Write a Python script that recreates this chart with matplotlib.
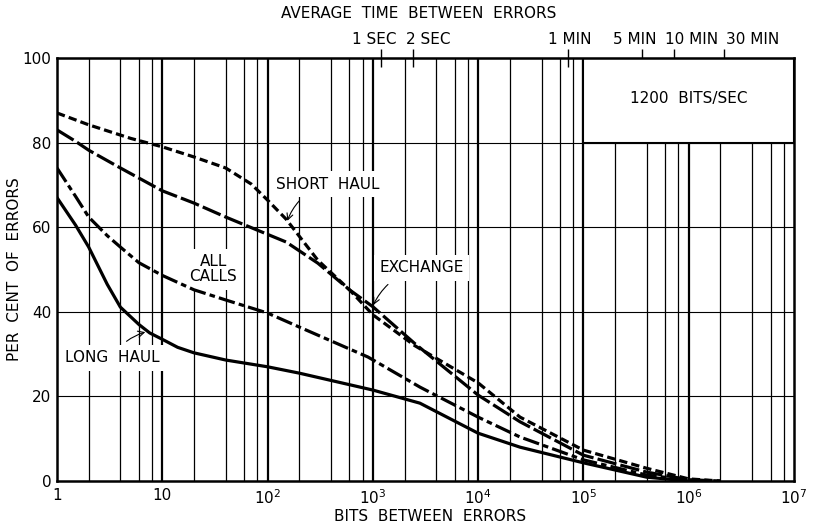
import numpy as np
import matplotlib.pyplot as plt
from matplotlib.patches import Rectangle

plt.rcParams['font.family'] = ['DejaVu Sans']
plt.rcParams['lines.scale_dashes'] = False

# per cent of errors vs bits between errors, read per call type
short_x = [1, 2, 5, 10, 20, 40, 70, 100, 150, 300, 600, 1000, 2500, 1e4, 2.5e4, 1e5, 4e5, 1e6, 2e6]
short_y = [87, 84.2, 81, 79, 76.6, 74, 70.2, 66.4, 61.9, 52.2, 45.2, 39.3, 32, 23.2, 15.1, 7.3, 3.0, 0.5, 0]

exch_x = [1, 1.5, 2, 4, 10, 20, 40, 80, 150, 300, 600, 1000, 2500, 1e4, 2.5e4, 1e5, 4e5, 1e6, 2e6]
exch_y = [83, 80.3, 78.2, 74, 68.6, 65.7, 62.4, 59.3, 56.5, 51.5, 45.2, 41.2, 32.5, 20.3, 14, 6.1, 2.1, 0.3, 0]

all_x = [1, 1.5, 2, 3, 4, 6, 10, 20, 40, 100, 200, 900, 2800, 1e4, 2.5e4, 1e5, 4e5, 1e6, 1.6e6]
all_y = [74, 67.3, 62.4, 58, 55.3, 51.6, 48.6, 45.2, 42.8, 39.7, 36.4, 29.3, 22.2, 15.1, 10.4, 5.0, 1.4, 0.2, 0]

long_x = [1, 1.5, 2, 3, 4, 6, 7.6, 10, 14, 20, 40, 100, 200, 1000, 2800, 1e4, 2.5e4, 1e5, 4e5, 1e6]
long_y = [67, 60.5, 55.3, 46.5, 41.1, 37, 35, 33.5, 31.6, 30.3, 28.6, 27, 25.5, 21.5, 18.4, 11.3, 8, 4.3, 0.9, 0]

# top scale: average time between errors at 1200 bits/sec
bit_rate = 1200
time_secs = [1, 2, 60, 300, 600, 1800]
time_labels = ['1 SEC', '2 SEC', '1 MIN', '5 MIN', '10 MIN', '30 MIN']
time_label_shift = [-5, 11, 1, -5, 13, 21]   # points, keeps crowded labels apart

decade_labels = ['1', '10', r'$\mathregular{10^2}$', r'$\mathregular{10^3}$', r'$\mathregular{10^4}$',
                 r'$\mathregular{10^5}$', r'$\mathregular{10^6}$', r'$\mathregular{10^7}$']
fs = 11

fig = plt.figure(figsize=(8.13, 5.28), dpi=100)
ax = fig.add_axes([0.0701, 0.089, 0.9065, 0.8012])
ax.set_xscale('log')
ax.set_xlim(1, 1e7)
ax.set_ylim(0, 100)

# chart paper grid: 2, 4, 6, 8 in each cycle, decades heavier
for k in range(7):
    for m in [1, 2, 4, 6, 8]:
        xv = m * 10 ** k
        if xv <= 1:
            continue
        ax.axvline(xv, color='black', lw=1.6 if m == 1 else 0.9, zorder=1)
for yv in [20, 40, 60, 80]:
    ax.axhline(yv, color='black', lw=0.8, zorder=1)

# rate box in the upper right hides the grid
ax.add_patch(Rectangle((1e5, 80), 1e7 - 1e5, 20, facecolor='white', edgecolor='black',
                       lw=1.5, zorder=2))
ax.text(1e6, 90.5, '1200  BITS/SEC', ha='center', va='center', fontsize=fs, zorder=3)

lw = 2.3
ax.plot(short_x, short_y, color='black', lw=lw, dashes=(6, 3), zorder=4)
ax.plot(exch_x, exch_y, color='black', lw=lw, dashes=(14, 3), zorder=4)
ax.plot(all_x, all_y, color='black', lw=lw, dashes=(12, 3, 4, 3), zorder=4)
ax.plot(long_x, long_y, color='black', lw=lw, zorder=4)

box = dict(facecolor='white', edgecolor='none', pad=4)
arrow = dict(arrowstyle='->', color='black', lw=0.8, shrinkA=4, shrinkB=0,
             connectionstyle='arc3,rad=0.25')
ax.annotate('SHORT  HAUL', xy=(154, 61.5), xytext=(369, 70.2), ha='center', va='center',
            fontsize=fs, bbox=box, arrowprops=arrow, zorder=3)
ax.annotate('EXCHANGE', xy=(1010, 41.6), xytext=(2890, 50.4), ha='center', va='center',
            fontsize=fs, bbox=box, arrowprops=arrow, zorder=3)
ax.annotate('LONG  HAUL', xy=(6.9, 35.2), xytext=(3.33, 29.1), ha='center', va='center',
            fontsize=fs, bbox=box, arrowprops=dict(arrow, connectionstyle='arc3,rad=-0.2'), zorder=3)
ax.text(30.4, 50, 'ALL\nCALLS', ha='center', va='center', fontsize=fs,
        linespacing=1.0, bbox=box, zorder=3)

ax.set_xticks([10 ** k for k in range(8)])
ax.set_xticklabels(decade_labels, fontsize=fs)
ax.xaxis.set_minor_locator(plt.NullLocator())
ax.set_yticks([0, 20, 40, 60, 80, 100])
ax.set_yticklabels(['0', '20', '40', '60', '80', '100'], fontsize=fs)
ax.tick_params(axis='both', length=0)
ax.tick_params(axis='x', pad=5)
ax.tick_params(axis='y', pad=4)
for s in ax.spines.values():
    s.set_linewidth(1.8)
    s.set_zorder(5)

ax.text(0.506, -0.085, 'BITS  BETWEEN  ERRORS', transform=ax.transAxes,
        ha='center', va='center', fontsize=fs)
ax.text(-0.057, 0.5, 'PER  CENT  OF  ERRORS', transform=ax.transAxes, rotation=90,
        ha='center', va='center', fontsize=fs)

# top scale ticks straddle the frame, labels set by hand
sec = ax.secondary_xaxis('top')
sec.set_xticks([bit_rate * t for t in time_secs])
sec.set_xticklabels([''] * len(time_secs))
sec.xaxis.set_minor_locator(plt.NullLocator())
sec.tick_params(direction='inout', length=13, width=1)
for t, lab, dx in zip(time_secs, time_labels, time_label_shift):
    ax.annotate(lab, xy=(bit_rate * t, 1), xycoords=('data', 'axes fraction'),
                xytext=(dx, 8), textcoords='offset points', ha='center', va='bottom',
                fontsize=fs)
ax.text(0.491, 1.106, 'AVERAGE  TIME  BETWEEN  ERRORS', transform=ax.transAxes,
        ha='center', va='center', fontsize=fs)

fig.savefig('out.png', dpi=100)
